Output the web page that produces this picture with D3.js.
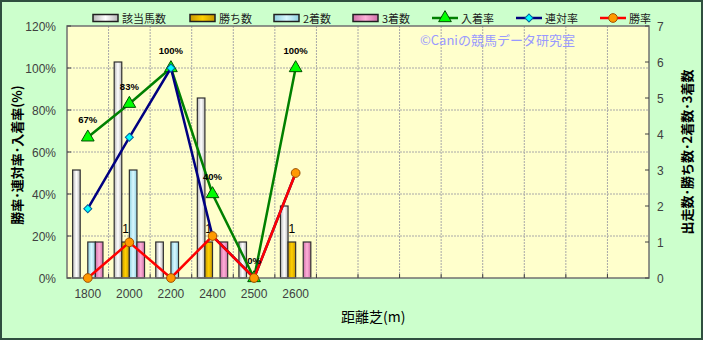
<!DOCTYPE html>
<html><head><meta charset="utf-8">
<script src="https://cdn.jsdelivr.net/npm/d3@7"></script>
<style>
html,body{margin:0;padding:0;background:#CCFFCC;}
svg{display:block;}
text{font-family:"Liberation Sans",Arial,sans-serif;}
.jp{font-family:"Noto Sans CJK JP",sans-serif;}
</style></head>
<body>
<svg id="c" width="703" height="340"></svg>
<script>
// ---- data ----
const categories = ["1800","2000","2200","2400","2500","2600"];
const slotCount = 14;
const runners = [3, 6, 1, 5, 1, 2];   // 該当馬数
const wins    = [0, 1, 0, 1, 0, 1];   // 勝ち数
const seconds = [1, 3, 1, 0, 0, 0];   // 2着数
const thirds  = [1, 1, 0, 1, 0, 1];   // 3着数
const placeRate = [67, 83, 100, 40, 0, 100]; // 入着率
const rentaiRate = [33, 67, 100, 20, 0, 50]; // 連対率
const winRate = [0, 17, 0, 20, 0, 50];       // 勝率
const leftTicks = [0, 20, 40, 60, 80, 100, 120];
const rightTicks = [0, 1, 2, 3, 4, 5, 6, 7];
const barSeries = ["該当馬数", "勝ち数", "2着数", "3着数"];
const lineSeries = ["入着率", "連対率", "勝率"];

// ---- layout ----
const svg = d3.select("#c");
const W = 703, H = 340;
const L = 67, R = 649, T = 26, B = 278;

svg.append("rect").attr("x",1).attr("y",1).attr("width",W-2).attr("height",H-2)
  .attr("fill","#CCFFCC").attr("stroke","#2F4F3F").attr("stroke-width",2);

const defs = svg.append("defs");
const grads = [
  ["g0", "#b8b8b8", "#ffffff"],
  ["g1", "#c89800", "#ffd000"],
  ["g2", "#90d0e0", "#d8f8ff"],
  ["g3", "#d070a8", "#ffb0d8"]
];
grads.forEach(([id,a,b])=>{
  const g = defs.append("linearGradient").attr("id",id).attr("x1","0%").attr("x2","100%").attr("y1","0%").attr("y2","0%");
  g.append("stop").attr("offset","0%").attr("stop-color",a);
  g.append("stop").attr("offset","50%").attr("stop-color",b);
  g.append("stop").attr("offset","100%").attr("stop-color",a);
});

const x = d3.scaleBand().domain(d3.range(slotCount)).range([L, R]).padding(0);
const yL = d3.scaleLinear().domain([0, 120]).range([B, T]);
const yR = d3.scaleLinear().domain([0, 7]).range([B, T]);
const groupW = x.bandwidth() * 0.73;
const x1 = d3.scaleBand().domain(barSeries).range([0, groupW]).padding(0);

// plot area
svg.append("rect").attr("x",L).attr("y",T).attr("width",R-L).attr("height",B-T).attr("fill","#FFFFCC");

// gridlines
svg.append("g").selectAll("line").data(leftTicks.filter(d=>d>0 && d<120)).join("line")
  .attr("x1",L).attr("x2",R).attr("y1",d=>yL(d)).attr("y2",d=>yL(d))
  .attr("stroke","#a8a8a8").attr("stroke-width",1).attr("stroke-dasharray","2,1");
svg.append("g").selectAll("line").data(d3.range(1, slotCount)).join("line")
  .attr("y1",T).attr("y2",B).attr("x1",d=>x(d)).attr("x2",d=>x(d))
  .attr("stroke","#a8a8a8").attr("stroke-width",1).attr("stroke-dasharray","2,1");

// watermark
svg.append("text").attr("class","jp").attr("x",420).attr("y",45).attr("font-size",13)
  .attr("fill","#9999FF").text("©Caniの競馬データ研究室");

// bars
const barData = [runners, wins, seconds, thirds];
const fills = ["url(#g0)","url(#g1)","url(#g2)","url(#g3)"];
barData.forEach((arr, si)=>{
  svg.append("g").selectAll("rect").data(arr).join("rect")
    .attr("x",(d,i)=>x(i) + (x.bandwidth()-groupW)/2 + x1(barSeries[si]))
    .attr("width",x1.bandwidth())
    .attr("y",d=>yR(d)).attr("height",d=>yR(0)-yR(d))
    .attr("fill",fills[si]).attr("stroke","#303030").attr("stroke-width",1.2)
    .style("display",d=>d>0?null:"none");
});

// win count labels
svg.append("g").selectAll("text").data(wins).join("text")
  .attr("x",(d,i)=>x(i) + (x.bandwidth()-groupW)/2 + x1("勝ち数") + x1.bandwidth()/2)
  .attr("y",d=>yR(d)-9).attr("text-anchor","middle").attr("font-size",12).attr("fill","#000")
  .text(d=>d>0?d:"");

// plot border
svg.append("rect").attr("x",L).attr("y",T).attr("width",R-L).attr("height",B-T)
  .attr("fill","none").attr("stroke","#707070").attr("stroke-width",1.5);

// x ticks
svg.append("g").selectAll("line").data(d3.range(1, slotCount)).join("line")
  .attr("x1",d=>x(d)).attr("x2",d=>x(d)).attr("y1",B).attr("y2",B-4).attr("stroke","#404040");
// left/right ticks
svg.append("g").selectAll("line").data(leftTicks).join("line")
  .attr("x1",L).attr("x2",L+4).attr("y1",d=>yL(d)).attr("y2",d=>yL(d)).attr("stroke","#404040");
svg.append("g").selectAll("line").data(rightTicks).join("line")
  .attr("x1",R-4).attr("x2",R).attr("y1",d=>yR(d)).attr("y2",d=>yR(d)).attr("stroke","#404040");

// axis labels
svg.append("g").selectAll("text").data(leftTicks).join("text")
  .attr("x",56).attr("y",d=>yL(d)+4.5).attr("text-anchor","end").attr("font-size",12).attr("fill","#404040")
  .text(d=>d+"%");
svg.append("g").selectAll("text").data(rightTicks).join("text")
  .attr("x",657).attr("y",d=>yR(d)+4.5).attr("text-anchor","start").attr("font-size",12).attr("fill","#404040")
  .text(d=>d);
svg.append("g").selectAll("text").data(categories).join("text")
  .attr("x",(d,i)=>x(i)+x.bandwidth()/2).attr("y",298).attr("text-anchor","middle").attr("font-size",12).attr("fill","#404040")
  .text(d=>d);

// axis titles
svg.append("text").attr("class","jp").attr("transform","translate(22,155) rotate(-90)")
  .attr("text-anchor","middle").attr("font-size",13).attr("font-weight",700).attr("fill","#000")
  .text("勝率･連対率･入着率(%)");
svg.append("text").attr("class","jp").attr("transform","translate(692,152) rotate(-90)")
  .attr("text-anchor","middle").attr("font-size",13).attr("font-weight",700).attr("fill","#000")
  .text("出走数･勝ち数･2着数･3着数");
svg.append("text").attr("class","jp").attr("x",341).attr("y",322)
  .attr("font-size",14).attr("fill","#000").text("距離芝(m)");

// lines
const cx = i => x(i) + x.bandwidth()/2;
const lineGen = d3.line().x((d,i)=>cx(i)).y(d=>yL(d));
const lineDefs = [
  {data: placeRate, color:"#008000", marker:"tri", mfill:"#00FF00", mstroke:"#005000"},
  {data: rentaiRate, color:"#000080", marker:"dia", mfill:"#00FFFF", mstroke:"#0060a0"},
  {data: winRate, color:"#FF0000", marker:"cir", mfill:"#FF9900", mstroke:"#A05000"}
];
const sym = {tri: d3.symbol().type(d3.symbolTriangle).size(70),
             dia: d3.symbol().type(d3.symbolSquare).size(32),
             cir: d3.symbol().type(d3.symbolCircle).size(60)};
const rot = {tri: "", dia: " rotate(45)", cir: ""};
lineDefs.forEach(ld=>{
  svg.append("path").datum(ld.data).attr("d",lineGen).attr("fill","none")
    .attr("stroke",ld.color).attr("stroke-width",2.5);
  svg.append("g").selectAll("path").data(ld.data).join("path")
    .attr("transform",(d,i)=>`translate(${cx(i)},${yL(d)})${rot[ld.marker]}`)
    .attr("d",sym[ld.marker]).attr("fill",ld.mfill).attr("stroke",ld.mstroke).attr("stroke-width",1);
});

// place rate labels
svg.append("g").selectAll("text").data(placeRate).join("text")
  .attr("x",(d,i)=>cx(i)).attr("y",d=>yL(d)-14).attr("text-anchor","middle")
  .attr("font-size",9.5).attr("font-weight","bold").attr("fill","#000").text(d=>d+"%");

// legend
const legendItems = [
  {name:"該当馬数", type:"bar", fill:"url(#g0)", x:93},
  {name:"勝ち数", type:"bar", fill:"url(#g1)", x:190},
  {name:"2着数", type:"bar", fill:"url(#g2)", x:274},
  {name:"3着数", type:"bar", fill:"url(#g3)", x:353},
  {name:"入着率", type:"line", li:0, x:432},
  {name:"連対率", type:"line", li:1, x:516},
  {name:"勝率", type:"line", li:2, x:600}
];
const lg = svg.append("g");
legendItems.forEach(it=>{
  const ly = 18;
  if (it.type==="bar") {
    lg.append("rect").attr("x",it.x).attr("y",ly-3.5).attr("width",25).attr("height",7)
      .attr("fill",it.fill).attr("stroke","#202020").attr("stroke-width",1.5);
  } else {
    const ld = lineDefs[it.li];
    lg.append("line").attr("x1",it.x).attr("x2",it.x+26).attr("y1",ly).attr("y2",ly)
      .attr("stroke",ld.color).attr("stroke-width",2.5);
    lg.append("path").attr("transform",`translate(${it.x+13},${ly})${rot[ld.marker]}`).attr("d",sym[ld.marker])
      .attr("fill",ld.mfill).attr("stroke",ld.mstroke).attr("stroke-width",1);
  }
  lg.append("text").attr("class","jp").attr("x",it.x+29).attr("y",ly+4.5).attr("font-size",11)
    .attr("fill","#222").text(it.name);
});
</script>
</body></html>
